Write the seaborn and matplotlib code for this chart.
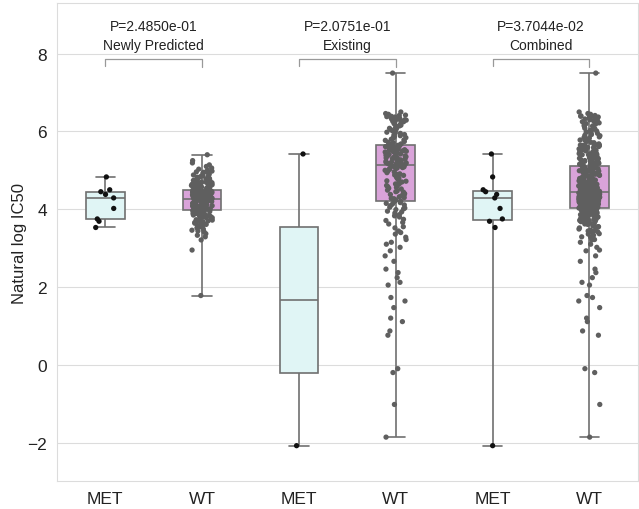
import numpy as np
import pandas as pd
import matplotlib
matplotlib.use("Agg")
import matplotlib.pyplot as plt
import seaborn as sns

# ---------------- data ----------------
groups = ["Newly Predicted", "Existing", "Combined"]
statuses = ["MET", "WT"]
p_values = ["P=2.4850e-01", "P=2.0751e-01", "P=3.7044e-02"]
y_ticks = [-2, 0, 2, 4, 6, 8]

newly_met = [4.83, 4.50, 4.45, 4.38, 4.29, 4.02, 3.75, 3.69, 3.53]
existing_met = [5.42, -2.08]

newly_wt = [
    1.78, 2.95, 3.21, 3.29, 3.33, 3.37, 3.42, 3.46, 3.49, 3.52, 3.55, 3.58, 3.61, 3.63, 3.66,
    3.68, 3.70, 3.71, 3.73, 3.75, 3.76, 3.78, 3.79, 3.81, 3.82, 3.83, 3.85, 3.86, 3.87, 3.88,
    3.89, 3.90, 3.91, 3.92, 3.93, 3.93, 3.94, 3.95, 3.95, 3.96, 3.96, 3.97, 3.97, 3.98, 3.98,
    3.99, 4.00, 4.00, 4.01, 4.02, 4.03, 4.03, 4.04, 4.05, 4.06, 4.06, 4.07, 4.08, 4.09, 4.09,
    4.10, 4.11, 4.12, 4.12, 4.13, 4.14, 4.15, 4.15, 4.16, 4.17, 4.17, 4.18, 4.19, 4.19, 4.20,
    4.20, 4.21, 4.21, 4.22, 4.22, 4.23, 4.23, 4.24, 4.24, 4.24, 4.24, 4.25, 4.25, 4.25, 4.26,
    4.26, 4.26, 4.27, 4.27, 4.28, 4.28, 4.29, 4.29, 4.30, 4.30, 4.31, 4.31, 4.32, 4.33, 4.33,
    4.34, 4.35, 4.35, 4.36, 4.37, 4.37, 4.38, 4.38, 4.39, 4.40, 4.40, 4.41, 4.42, 4.42, 4.43,
    4.44, 4.44, 4.45, 4.45, 4.46, 4.46, 4.47, 4.47, 4.48, 4.48, 4.49, 4.49, 4.50, 4.50, 4.50,
    4.51, 4.52, 4.53, 4.54, 4.55, 4.56, 4.57, 4.58, 4.59, 4.60, 4.61, 4.62, 4.63, 4.64, 4.65,
    4.66, 4.67, 4.68, 4.69, 4.70, 4.71, 4.72, 4.73, 4.74, 4.76, 4.77, 4.79, 4.80, 4.82, 4.84,
    4.86, 4.88, 4.90, 4.92, 4.94, 4.96, 4.98, 5.00, 5.03, 5.06, 5.10, 5.14, 5.19, 5.25, 5.40,
    3.44, 3.57, 3.64, 3.72, 3.80, 3.84, 3.89, 3.92, 3.96,
    4.01, 4.05, 4.08, 4.11, 4.14, 4.16, 4.18, 4.21, 4.23,
    4.27, 4.30, 4.32, 4.36, 4.39, 4.41, 4.43, 4.46, 4.49,
    4.53, 4.57, 4.61, 4.64, 4.68, 4.72, 4.78, 4.85, 4.95,
]

existing_wt = [
    -1.86, -1.02, -0.20, -0.10, 0.76, 0.87, 1.11, 1.20, 1.47, 1.64, 1.73, 2.05, 2.12, 2.24,
    2.37, 2.46, 2.66, 2.80, 2.93,
    3.02, 3.10, 3.15, 3.22, 3.28, 3.36, 3.40, 3.44, 3.52, 3.55, 3.62, 3.66, 3.71, 3.74, 3.80,
    3.83, 3.86, 3.90, 3.93, 3.95, 3.99, 4.01, 4.03, 4.05, 4.09, 4.11, 4.13, 4.15, 4.17, 4.19,
    4.21,
    4.22, 4.24, 4.27, 4.28, 4.30, 4.32, 4.35, 4.37, 4.38, 4.40, 4.44, 4.45, 4.47, 4.49, 4.52,
    4.54, 4.56, 4.58, 4.61, 4.63, 4.65, 4.66, 4.70, 4.72, 4.73, 4.75, 4.79, 4.80, 4.82, 4.84,
    4.87, 4.88, 4.90, 4.91, 4.94, 4.96, 4.97, 4.99, 5.00, 5.03, 5.04, 5.05, 5.06, 5.07, 5.08,
    5.09, 5.10, 5.11, 5.11, 5.12,
    5.13, 5.15, 5.16, 5.17, 5.18, 5.19, 5.20, 5.21, 5.22, 5.23, 5.24, 5.25, 5.27, 5.28, 5.29,
    5.30, 5.31, 5.32, 5.33, 5.34, 5.35, 5.37, 5.38, 5.39, 5.40, 5.41, 5.42, 5.43, 5.44, 5.45,
    5.47, 5.48, 5.49, 5.50, 5.51, 5.52, 5.53, 5.54, 5.55, 5.57, 5.58, 5.59, 5.60, 5.61, 5.62,
    5.63, 5.64, 5.64, 5.65, 5.65,
    5.66, 5.68, 5.71, 5.72, 5.74, 5.77, 5.78, 5.80, 5.83, 5.84, 5.86, 5.89, 5.90, 5.92, 5.95,
    5.96, 5.98, 6.01, 6.02, 6.04, 6.07, 6.08, 6.10, 6.13, 6.14, 6.16, 6.19, 6.20, 6.22, 6.25,
    6.26, 6.28, 6.29, 6.30, 6.31, 6.32, 6.33, 6.34, 6.35, 6.36, 6.37, 6.38, 6.39, 6.40, 6.41,
    6.42, 6.44, 6.46, 6.50, 7.50,
]

# Combined = union of the two sets
combined_met = newly_met + existing_met
combined_wt = newly_wt + existing_wt

series = {
    ("Newly Predicted", "MET"): newly_met,
    ("Newly Predicted", "WT"): newly_wt,
    ("Existing", "MET"): existing_met,
    ("Existing", "WT"): existing_wt,
    ("Combined", "MET"): combined_met,
    ("Combined", "WT"): combined_wt,
}

rows = []
order = []
for g in groups:
    for s in statuses:
        key = f"{g}|{s}"
        order.append(key)
        for v in series[(g, s)]:
            rows.append({"slot": key, "status": s, "value": v})
df = pd.DataFrame(rows)

# ---------------- plot ----------------
sns.set_style("whitegrid", {"grid.color": "#dcdcdc", "axes.edgecolor": "#dcdcdc"})
plt.rcParams["font.family"] = ["Liberation Sans", "DejaVu Sans"]

fig = plt.figure(figsize=(6.39, 5.10), dpi=100)
ax = fig.add_axes([0.089, 0.054, 0.909, 0.938])

box_pal = {"MET": "#e0f5f5", "WT": "#d9a3d9"}
pt_pal = {"MET": "#111111", "WT": "#5f5f5f"}

sns.boxplot(data=df, x="slot", y="value", hue="status", order=order,
            palette=box_pal, saturation=1, width=0.4, whis=(0, 100),
            showfliers=False, dodge=False, linecolor="#707070", linewidth=1.2,
            legend=False, ax=ax)
np.random.seed(3)
sns.stripplot(data=df, x="slot", y="value", hue="status", order=order,
              palette=pt_pal, size=3.8, jitter=0.11, dodge=False,
              legend=False, ax=ax)

ax.set_xlim(-0.5, 5.5)
ax.set_ylim(-3.0, 9.3)
ax.set_yticks(y_ticks)
ax.set_xticks(range(len(order)))
ax.set_xticklabels([k.split("|")[1] for k in order], fontsize=12.5, color="#222222")
ax.tick_params(axis="y", labelsize=12.5, labelcolor="#222222")
ax.set_xlabel("")
ax.set_ylabel("Natural log IC50", fontsize=12, color="#222222", labelpad=0)
ax.grid(axis="x", visible=False)
for sp in ax.spines.values():
    sp.set_color("#dcdcdc")

# brackets and annotations
for i, (g, p) in enumerate(zip(groups, p_values)):
    x0, x1 = 2 * i, 2 * i + 1
    ax.plot([x0, x0, x1, x1], [7.69, 7.86, 7.86, 7.66], color="#999999", lw=0.9)
    xm = (x0 + x1) / 2
    ax.text(xm, 8.72, p, ha="center", va="center", fontsize=10, color="#222222")
    ax.text(xm, 8.23, g, ha="center", va="center", fontsize=10, color="#222222")

fig.savefig("out.png", dpi=100)
